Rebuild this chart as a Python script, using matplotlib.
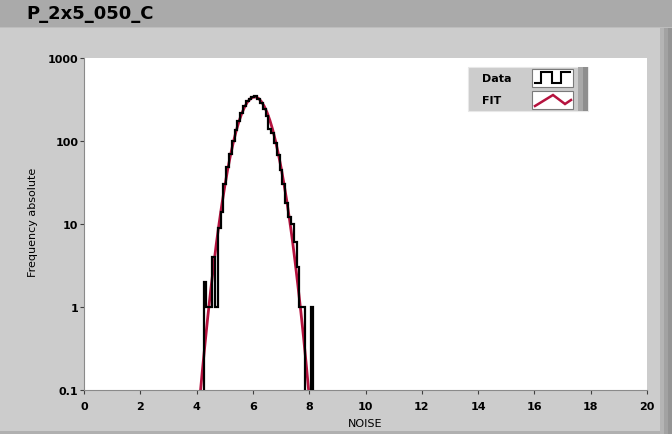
import numpy as np
import matplotlib
matplotlib.use('Agg')
from matplotlib import pyplot as plt
from matplotlib.patches import Rectangle
from matplotlib.lines import Line2D
from matplotlib.ticker import NullLocator

# histogram of NOISE (bin centres, width 0.1) and absolute frequency
bin_centers = [4.2, 4.3, 4.4, 4.5, 4.6, 4.7, 4.8, 4.9, 5.0, 5.1, 5.2, 5.3, 5.4,
               5.5, 5.6, 5.7, 5.8, 5.9, 6.0, 6.1, 6.2, 6.3, 6.4, 6.5, 6.6,
               6.7, 6.8, 6.9, 7.0, 7.1, 7.2, 7.3, 7.4, 7.5, 7.6, 7.7, 7.8,
               7.9, 8.0, 8.1, 8.2]
counts = [0, 2, 1, 1, 4, 1, 9, 14, 30, 48, 70, 100, 135, 175, 215, 262, 300,
          322, 338, 348, 325, 290, 240, 200, 140, 125, 95, 68, 45, 30, 18, 12,
          10, 6, 3, 1, 1, 0, 0, 1, 0]

# gaussian fit curve
fit_x = [4.1, 4.2, 4.3, 4.4, 4.5, 4.6, 4.7, 4.8, 4.9, 5.0, 5.1, 5.2, 5.3, 5.4,
         5.5, 5.6, 5.7, 5.8, 5.9, 6.0, 6.1, 6.2, 6.3, 6.4, 6.5, 6.6, 6.7, 6.8,
         6.9, 7.0, 7.1, 7.2, 7.3, 7.4, 7.5, 7.6, 7.7, 7.8, 7.9, 8.0]
fit_y = [0.071, 0.164, 0.364, 0.776, 1.58, 3.06, 5.74, 10.2, 17.4, 28.4, 44.6,
         66.5, 95, 130, 170, 213, 255, 293, 321, 337, 339.5, 326, 299, 263,
         222, 179, 138, 101, 71, 48, 31, 19.3, 11.4, 6.5, 3.49, 1.8, 0.9,
         0.43, 0.194, 0.084]

y_ticks = [0.1, 1, 10, 100, 1000]
y_ticklabels = ['0.1', '1', '10', '100', '1000']
x_ticks = [0, 2, 4, 6, 8, 10, 12, 14, 16, 18, 20]

W, H = 672, 435
RED = '#b5123e'


def fx(px):
    return px / W


def fy(py):
    return 1 - py / H


def rect(fig, x0, y0, x1, y1, color, z=-1, **kw):
    r = Rectangle((fx(x0), fy(y1)), (x1 - x0) / W, (y1 - y0) / H,
                  transform=fig.transFigure, facecolor=color,
                  edgecolor=kw.pop('ec', 'none'), lw=kw.pop('lw', 0),
                  zorder=z, **kw)
    fig.add_artist(r)


def pline(fig, pts, color, lw, z=7):
    xs = [fx(p[0]) for p in pts]
    ys = [fy(p[1]) for p in pts]
    fig.add_artist(Line2D(xs, ys, transform=fig.transFigure, color=color,
                          lw=lw, zorder=z, solid_joinstyle='miter'))


fig = plt.figure(figsize=(W / 100, H / 100), dpi=100)
fig.patch.set_facecolor('#cccccc')

# panel decorations
rect(fig, 0, 0, W, 28, '#aaaaaa')
rect(fig, 0, 28, W, 29, '#bdbdbd')
rect(fig, 660, 29, 664, H, '#b4b4b4')
rect(fig, 664, 29, 668, H, '#a2a2a2')
rect(fig, 668, 29, W, H, '#949494')
rect(fig, 0, 432, 660, H, '#b0b0b0')
fig.text(fx(26), fy(14), 'P_2x5_050_C', fontsize=13, fontweight='bold',
         ha='left', va='center')

ax = fig.add_axes([fx(84), fy(391), (647 - 84) / W, (391 - 59) / H])
ax.set_facecolor('white')
ax.set_yscale('log')
ax.set_xlim(0, 20)
ax.set_ylim(0.1, 1000)

edges = np.append(np.array(bin_centers) - 0.05, bin_centers[-1] + 0.05)
vals = np.where(np.array(counts) > 0, counts, 1e-3)
ax.plot(fit_x, fit_y, color=RED, lw=2.0, zorder=2)
ax.stairs(vals, edges, baseline=None, color='black', lw=1.6, zorder=3)

ax.set_xticks(x_ticks)
ax.set_xticklabels([str(t) for t in x_ticks])
ax.set_yticks(y_ticks)
ax.set_yticklabels(y_ticklabels)
ax.yaxis.set_minor_locator(NullLocator())
ax.tick_params(axis='both', length=3, width=0.8, color='#404040',
               labelsize=8)
ax.tick_params(axis='y', pad=1)
ax.tick_params(axis='x', pad=5)
for lab in ax.get_xticklabels() + ax.get_yticklabels():
    lab.set_fontweight('bold')
for s in ['top', 'right']:
    ax.spines[s].set_visible(False)
for s in ['left', 'bottom']:
    ax.spines[s].set_color('#8a8a8a')
    ax.spines[s].set_linewidth(0.8)

ax.set_xlabel('NOISE', fontsize=8, labelpad=5)
fig.text(fx(33), fy(222), 'Frequency absolute', rotation=90, fontsize=8,
         ha='center', va='center')

# legend box
rect(fig, 468, 68, 588, 112, '#cccccc', z=5, ec='#e8e8e8', lw=0.8)
rect(fig, 578, 68, 583, 112, '#a8a8a8', z=5)
rect(fig, 583, 68, 588, 112, '#8e8e8e', z=5)
fig.text(fx(482), fy(79), 'Data', fontsize=8, fontweight='bold',
         ha='left', va='center', zorder=6)
fig.text(fx(482), fy(101), 'FIT', fontsize=8, fontweight='bold',
         ha='left', va='center', zorder=6)
rect(fig, 532, 70, 573, 88, 'white', z=6, ec='#7a7a7a', lw=0.8)
rect(fig, 532, 92, 573, 110, 'white', z=6, ec='#7a7a7a', lw=0.8)
pline(fig, [(535, 84), (541, 84), (541, 73), (552, 73), (552, 84),
            (561, 84), (561, 73), (570, 73)], 'black', 1.5)
pline(fig, [(535, 107), (553, 96), (565, 105), (571, 101)], RED, 1.8)

fig.savefig('out.png', dpi=100, facecolor=fig.get_facecolor())
